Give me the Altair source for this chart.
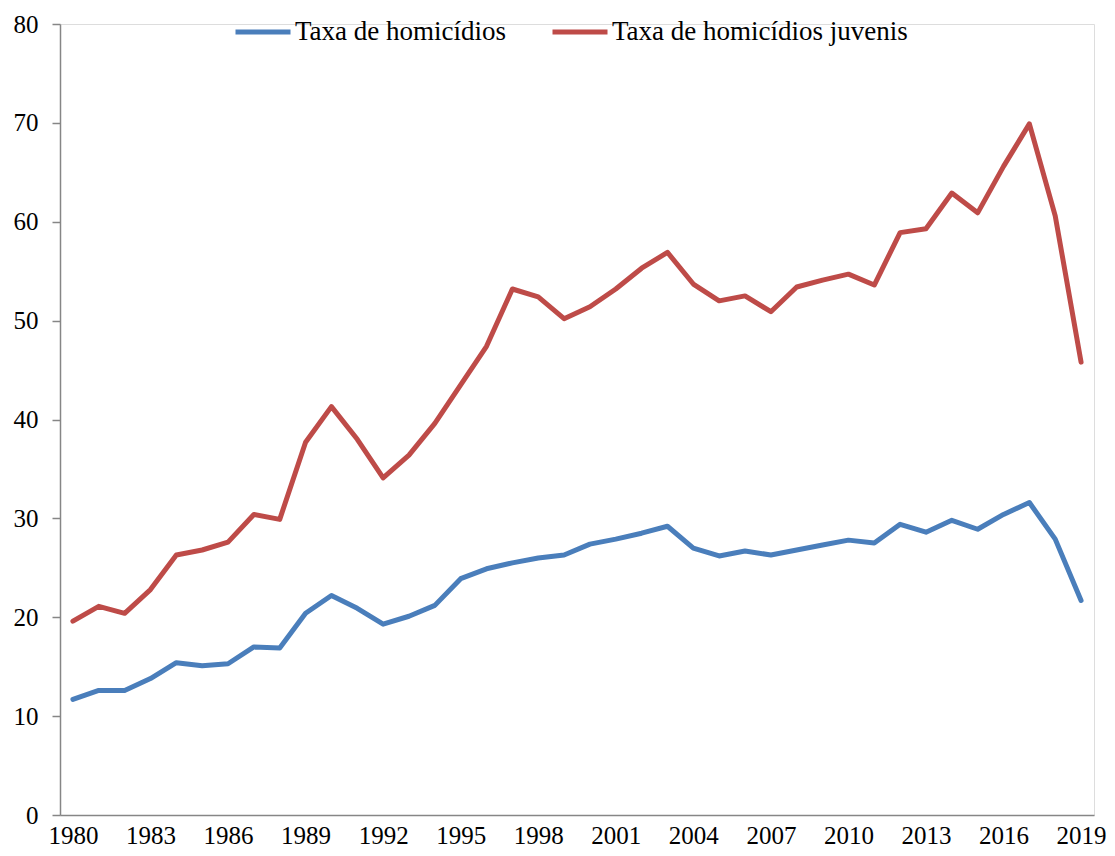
import altair as alt
import pandas as pd

years = list(range(1980, 2020))
taxa_homicidios = [11.7, 12.6, 12.6, 13.8, 15.4, 15.1, 15.3, 17.0, 16.9, 20.4,
                   22.2, 20.9, 19.3, 20.1, 21.2, 23.9, 24.9, 25.5, 26.0, 26.3,
                   27.4, 27.9, 28.5, 29.2, 27.0, 26.2, 26.7, 26.3, 26.8, 27.3,
                   27.8, 27.5, 29.4, 28.6, 29.8, 28.9, 30.4, 31.6, 27.9, 21.7]
taxa_juvenis = [19.6, 21.1, 20.4, 22.8, 26.3, 26.8, 27.6, 30.4, 29.9, 37.7,
                41.3, 38.0, 34.1, 36.4, 39.6, 43.5, 47.4, 53.2, 52.4, 50.2,
                51.4, 53.2, 55.3, 56.9, 53.7, 52.0, 52.5, 50.9, 53.4, 54.1,
                54.7, 53.6, 58.9, 59.3, 62.9, 60.9, 65.6, 69.9, 60.6, 45.8]
series_names = ["Taxa de homicídios", "Taxa de homicídios juvenis"]
series_colors = ["#4a7ebb", "#be4b48"]
tick_years = list(range(1980, 2020, 3))

rows = []
for name, vals in zip(series_names, [taxa_homicidios, taxa_juvenis]):
    for y, v in zip(years, vals):
        rows.append({"ano": y, "valor": v, "serie": name})
df = pd.DataFrame(rows)

font = "Liberation Serif"

chart = alt.Chart(df).mark_line(strokeWidth=5, strokeCap="round", strokeJoin="round").encode(
    x=alt.X("ano:O", title=None,
            scale=alt.Scale(padding=0.5),
            axis=alt.Axis(values=tick_years, labelAngle=0, ticks=False,
                          domainColor="#868686", domainWidth=1.5,
                          labelFont=font, labelFontSize=25, labelColor="#000000",
                          labelPadding=8, grid=False)),
    y=alt.Y("valor:Q", title=None,
            scale=alt.Scale(domain=[0, 80], nice=False, zero=True),
            axis=alt.Axis(values=list(range(0, 81, 10)), tickSize=8, tickColor="#868686",
                          tickWidth=1.5, domainColor="#868686", domainWidth=1.5,
                          labelFont=font, labelFontSize=25, labelColor="#000000",
                          labelPadding=14, grid=False)),
    color=alt.Color("serie:N", title=None,
                    scale=alt.Scale(domain=series_names, range=series_colors),
                    legend=alt.Legend(orient="none", legendX=173, legendY=-22,
                                      direction="horizontal", symbolType="stroke",
                                      symbolSize=3025, symbolStrokeWidth=5,
                                      labelFont=font, labelFontSize=27,
                                      labelColor="#000000", labelOffset=2,
                                      columnPadding=35, labelLimit=400)),
    order="ano:O",
).properties(
    width=1034, height=791,
    padding={"left": 52, "top": 16, "right": 13, "bottom": 33},
    autosize=alt.AutoSizeParams(type="none"),
).configure_view(stroke=None).configure(background="#ffffff")

chart.save("out.html", embed_options={"renderer": "svg", "actions": False})
